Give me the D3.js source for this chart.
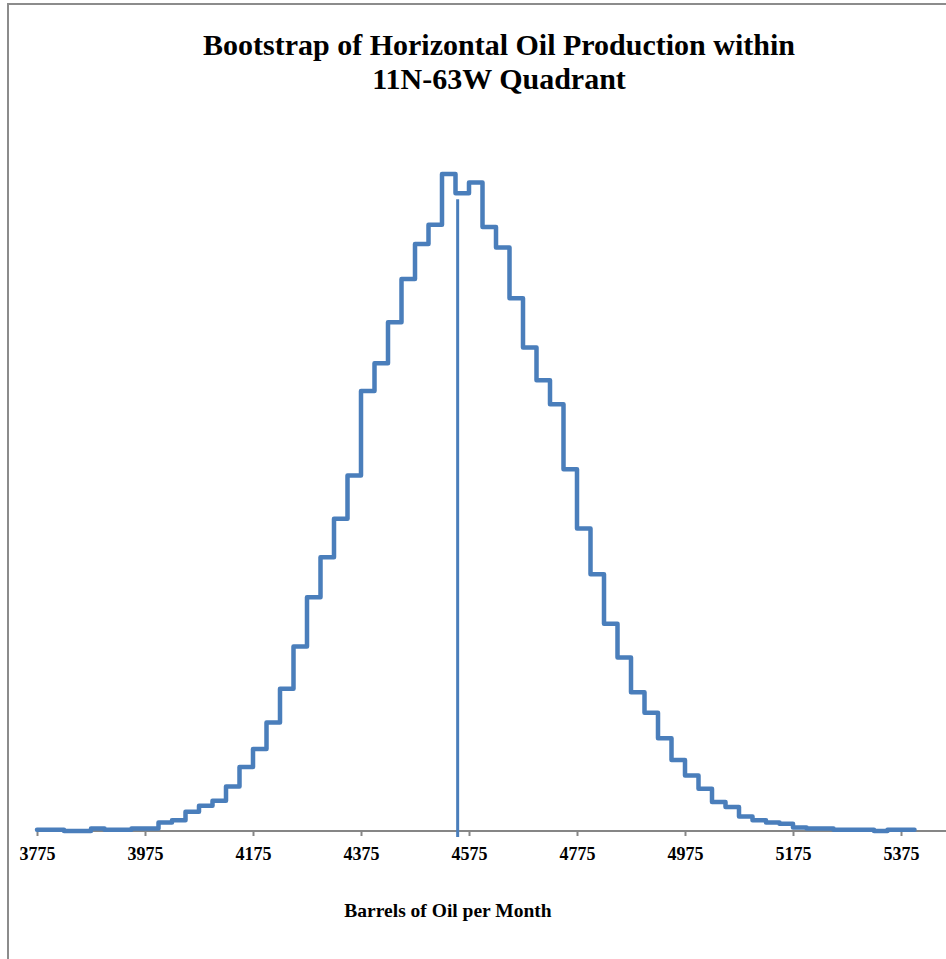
<!DOCTYPE html>
<html>
<head>
<meta charset="utf-8">
<script src="https://cdn.jsdelivr.net/npm/d3@7"></script>
<style>
  html, body { margin: 0; padding: 0; background: #ffffff; }
  svg { display: block; }
</style>
</head>
<body>
<div id="chart"></div>
<script>
// ---- data ----
const binEdges = [3775, 3800, 3825, 3850, 3875, 3900, 3925, 3950, 3975, 4000,
  4025, 4050, 4075, 4100, 4125, 4150, 4175, 4200, 4225, 4250,
  4275, 4300, 4325, 4350, 4375, 4400, 4425, 4450, 4475, 4500,
  4525, 4550, 4575, 4600, 4625, 4650, 4675, 4700, 4725, 4750,
  4775, 4800, 4825, 4850, 4875, 4900, 4925, 4950, 4975, 5000,
  5025, 5050, 5075, 5100, 5125, 5150, 5175, 5200, 5225, 5250,
  5275, 5300, 5325, 5350, 5375, 5400];
const binCounts = [1, 1, 0, 0, 2, 1, 1, 2, 2, 7,
  9, 16, 21, 25, 37, 53, 68, 90, 118, 153,
  194, 227, 259, 295, 365, 388, 422, 458, 487, 503,
  545, 529, 538, 501, 484, 442, 401, 374, 354, 300,
  251, 213, 172, 144, 115, 98, 77, 59, 46, 35,
  24, 20, 12, 9, 7, 6, 3, 2, 2, 1,
  1, 1, 0, 1, 1];
const meanValue = [4554];
const meanLineTop = [524];
const tickValues = [3775, 3975, 4175, 4375, 4575, 4775, 4975, 5175, 5375];
const titleLines = ["Bootstrap of Horizontal Oil Production within", "11N-63W Quadrant"];
const xAxisTitle = "Barrels of Oil per Month";

// ---- layout ----
const W = 946, H = 959;
const color = "#4a7ebb";
const serif = "'Liberation Serif', 'Times New Roman', serif";

const svg = d3.select("#chart").append("svg")
  .attr("width", W).attr("height", H);

// outer frame
svg.append("rect")
  .attr("x", 8).attr("y", 4)
  .attr("width", W + 20).attr("height", H + 20)
  .attr("fill", "#ffffff")
  .attr("stroke", "#8c8c8c").attr("stroke-width", 2);

const x = d3.scaleLinear().domain([3775, 5375]).range([37, 901]);
const y = d3.scaleLinear().domain([0, 545]).range([831, 174]);

// title
const title = svg.append("text")
  .attr("text-anchor", "middle")
  .attr("font-family", serif)
  .attr("font-weight", "bold")
  .attr("font-size", 30)
  .attr("fill", "#000");
title.selectAll("tspan").data(titleLines).join("tspan")
  .attr("x", 499)
  .attr("y", (d, i) => 55 + i * 34)
  .text(d => d);

// x axis
const axisG = svg.append("g").attr("transform", `translate(0, ${y(0)})`);
axisG.call(d3.axisBottom(x).tickValues(tickValues).tickSize(5).tickPadding(11)
  .tickFormat(d3.format("d")));
axisG.select(".domain").remove();
axisG.insert("line", ":first-child")
  .attr("x1", x(3775)).attr("x2", x(5575))
  .attr("y1", 0).attr("y2", 0)
  .attr("stroke", "#868686").attr("stroke-width", 2);
axisG.selectAll(".tick line").attr("stroke", "#868686").attr("stroke-width", 2);
axisG.selectAll(".tick text")
  .attr("font-family", serif)
  .attr("font-weight", "bold")
  .attr("font-size", 18)
  .attr("fill", "#000");

// histogram outline
const pts = binCounts.map((c, i) => [binEdges[i], c]);
pts.push([binEdges[binEdges.length - 1], binCounts[binCounts.length - 1]]);
const line = d3.line()
  .x(d => x(d[0]))
  .y(d => y(d[1]))
  .curve(d3.curveStepAfter);
svg.append("path")
  .datum(pts)
  .attr("d", line)
  .attr("fill", "none")
  .attr("stroke", color)
  .attr("stroke-width", 4.5)
  .attr("stroke-linejoin", "round")
  .attr("stroke-linecap", "round");

// mean line
svg.selectAll(".mean").data(meanValue).join("line")
  .attr("class", "mean")
  .attr("x1", d => x(d)).attr("x2", d => x(d))
  .attr("y1", y(meanLineTop[0]))
  .attr("y2", y(0) + 6)
  .attr("stroke", color)
  .attr("stroke-width", 3);

// axis title
svg.append("text")
  .attr("x", 448).attr("y", 917)
  .attr("text-anchor", "middle")
  .attr("font-family", serif)
  .attr("font-weight", "bold")
  .attr("font-size", 19.5)
  .attr("fill", "#000")
  .text(xAxisTitle);
</script>
</body>
</html>
